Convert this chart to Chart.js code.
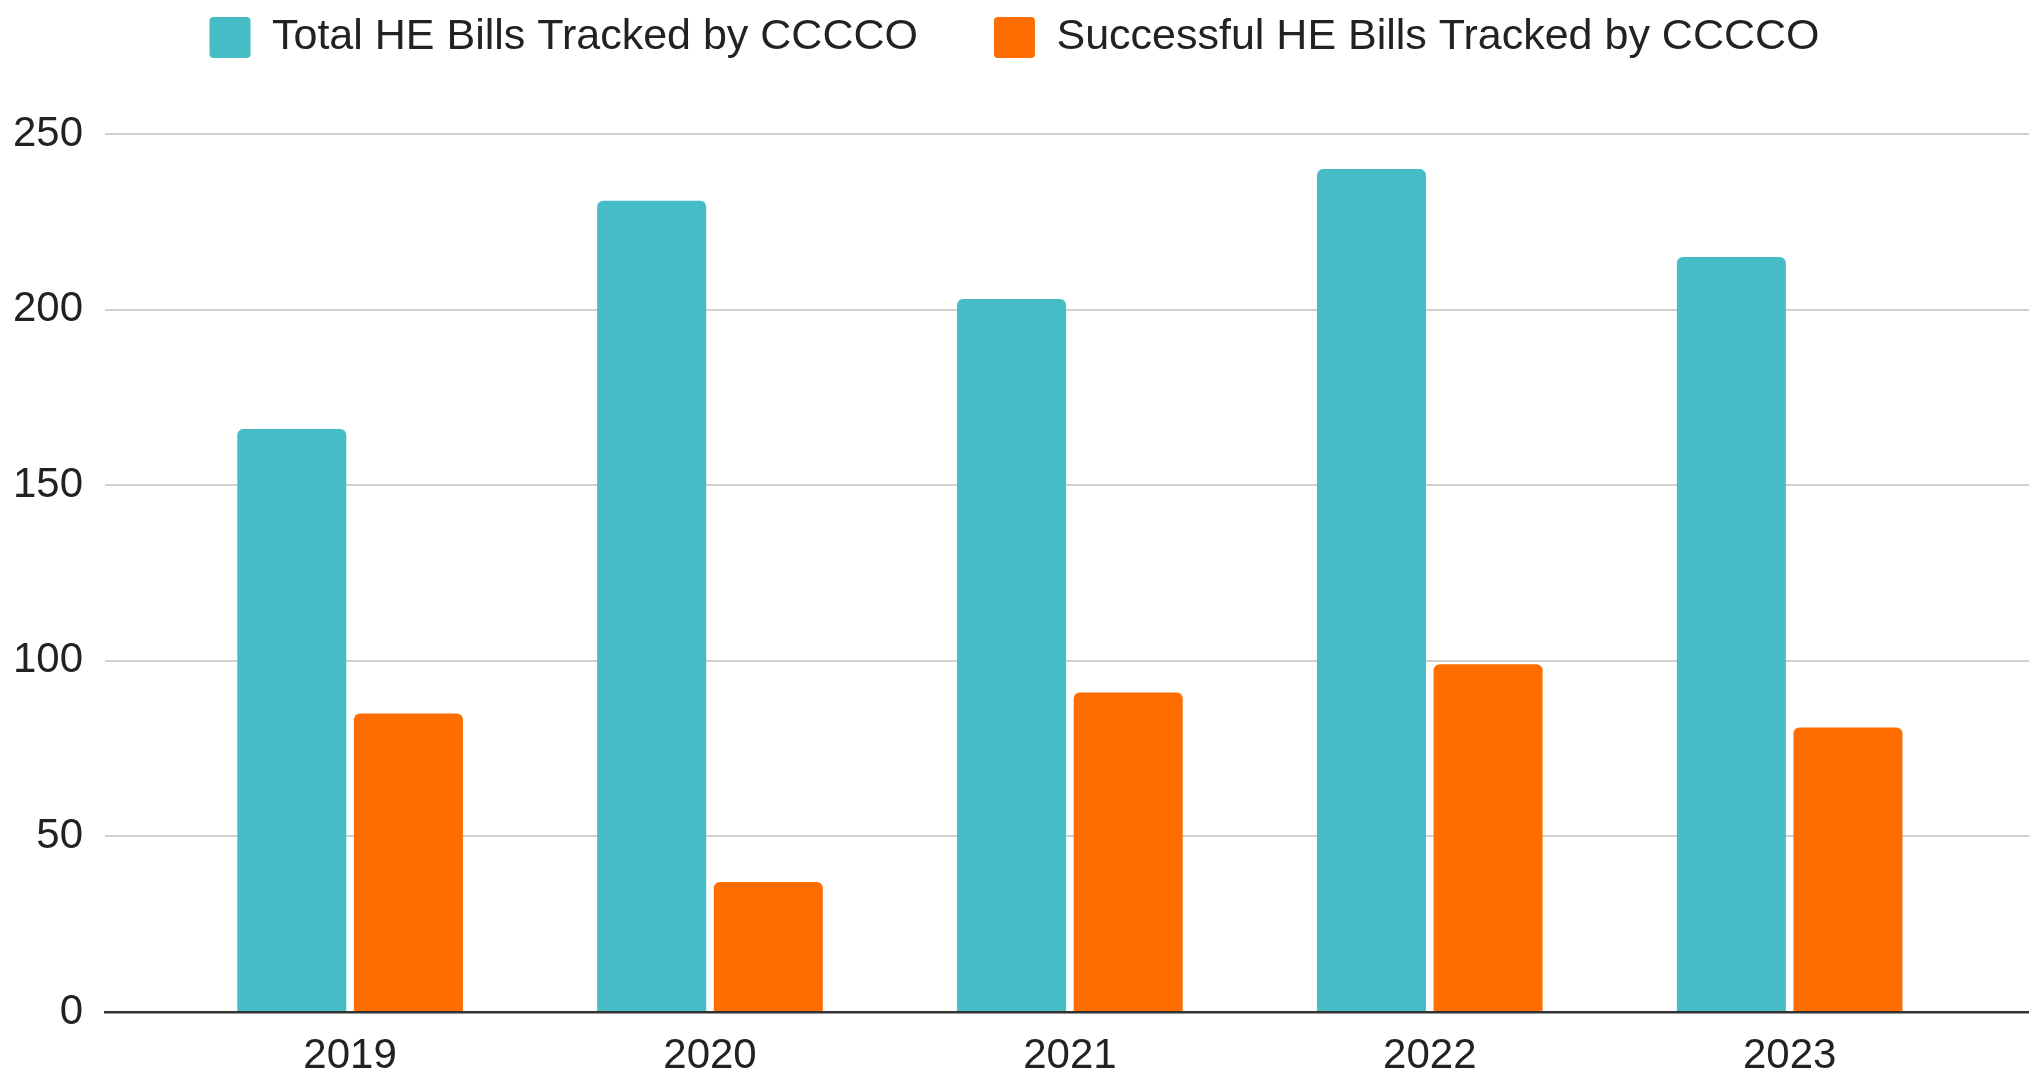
<!DOCTYPE html>
<html>
<head>
<meta charset="utf-8">
<script src="https://cdn.jsdelivr.net/npm/chart.js@4"></script>
<style>
html, body { margin: 0; padding: 0; background: #ffffff; overflow: hidden; }
#wrap { width: 2029px; height: 1079px; position: relative; }
</style>
</head>
<body>
<div id="wrap"><canvas id="c"></canvas></div>
<script>
const categories = ['2019', '2020', '2021', '2022', '2023'];
const seriesNames = ['Total HE Bills Tracked by CCCCO', 'Successful HE Bills Tracked by CCCCO'];
const totalBills = [166, 231, 203, 240, 215];
const successfulBills = [85, 37, 91, 99, 81];
const yTickValues = [0, 50, 100, 150, 200, 250];

const FONT = "'Liberation Sans', Arial, sans-serif";
const TEXT = '#222222';

const toPoints = arr => arr.map((v, i) => ({ x: i, y: v }));

new Chart(document.getElementById('c'), {
  type: 'bar',
  data: {
    datasets: [
      {
        label: seriesNames[0],
        data: toPoints(totalBills),
        backgroundColor: '#46BDC6',
        borderWidth: 0,
        borderRadius: 6,
        categoryPercentage: 0.648,
        barPercentage: 0.935
      },
      {
        label: seriesNames[1],
        data: toPoints(successfulBills),
        backgroundColor: '#FF6D01',
        borderWidth: 0,
        borderRadius: 6,
        categoryPercentage: 0.648,
        barPercentage: 0.935
      }
    ]
  },
  options: {
    responsive: true,
    maintainAspectRatio: false,
    animation: false,
    layout: { padding: { top: -60, left: 0, right: 0, bottom: 0 } },
    plugins: {
      legend: {
        position: 'top',
        align: 'center',
        labels: {
          boxWidth: 41,
          boxHeight: 41,
          padding: 76,
          color: TEXT,
          font: { family: FONT, size: 43 },
          generateLabels: chart => chart.data.datasets.map((ds, i) => ({
            text: ds.label,
            fillStyle: ds.backgroundColor,
            strokeStyle: ds.backgroundColor,
            lineWidth: 0,
            borderRadius: 4,
            fontColor: TEXT,
            hidden: false,
            datasetIndex: i
          }))
        }
      },
      title: {
        display: true,
        text: '',
        weight: 500,
        padding: { top: 0, bottom: 57 },
        font: { size: 8, lineHeight: 1 }
      },
      tooltip: { enabled: false }
    },
    scales: {
      x: {
        type: 'linear',
        position: 'bottom',
        min: -0.681,
        max: 4.665,
        offset: false,
        afterBuildTicks: scale => { scale.ticks = categories.map((_, i) => ({ value: i })); },
        afterFit: scale => { scale.height = 67; },
        grid: { display: true, color: 'rgba(0,0,0,0)', drawTicks: false },
        border: { display: true, color: '#333333', width: 2.5, z: 1 },
        ticks: {
          padding: 19,
          color: TEXT,
          font: { family: FONT, size: 42 },
          maxRotation: 0,
          autoSkip: false,
          callback: v => categories[v]
        }
      },
      y: {
        type: 'linear',
        min: yTickValues[0],
        max: yTickValues[yTickValues.length - 1],
        afterBuildTicks: scale => { scale.ticks = yTickValues.map(v => ({ value: v })); },
        afterFit: scale => { scale.width = 105; },
        grid: { color: '#d0d0d0', lineWidth: 2, drawTicks: false },
        border: { display: false },
        ticks: {
          padding: 22,
          color: TEXT,
          font: { family: FONT, size: 42 },
          callback: v => String(v)
        }
      }
    }
  }
});
</script>
</body>
</html>
